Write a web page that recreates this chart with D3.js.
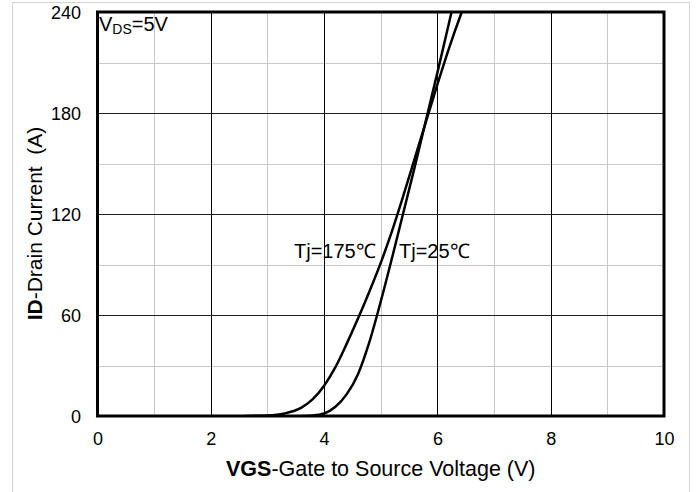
<!DOCTYPE html>
<html><head><meta charset="utf-8">
<script src="https://cdn.jsdelivr.net/npm/d3@7"></script>
<style>
html,body{margin:0;padding:0;background:#fff;}
svg{display:block;font-family:"Liberation Sans",Arial,sans-serif;}
</style></head>
<body><svg id="c" width="696" height="492"></svg>
<script>
// Data
const vgs25  = [3.6, 3.8, 4.0, 4.2, 4.4, 4.6, 4.8, 5.0, 5.2, 5.4, 5.6, 5.8, 6.0, 6.25, 6.32];
const id25   = [0, 0.3, 1.5, 5.5, 13, 25, 44, 68, 94, 121, 148, 176, 204, 240, 250];
const vgs175 = [2.6, 3.0, 3.3, 3.6, 3.8, 4.0, 4.2, 4.4, 4.6, 4.8, 5.0, 5.2, 5.4, 5.6, 5.8, 6.0, 6.2, 6.43, 6.52];
const id175  = [0, 0.3, 1.5, 5, 10, 18, 29, 43, 58, 74, 91, 110, 131, 153, 175, 197, 218, 240, 248];
const xTicks = [0, 2, 4, 6, 8, 10];
const yTicks = [0, 60, 120, 180, 240];
const xMinor = [1, 3, 5, 7, 9];
const yMinor = [30, 90, 150, 210];

const svg = d3.select("#c");
const L = 97.5, R = 664, T = 12, B = 416;
const x = d3.scaleLinear().domain([0, 10]).range([L, R]);
const y = d3.scaleLinear().domain([0, 240]).range([B, T]);
const FONT = "Liberation Sans, Arial, sans-serif";

// outer light border
svg.append("rect").attr("x", 12.5).attr("y", 2.5).attr("width", 677).attr("height", 500)
  .attr("fill", "none").attr("stroke", "#d4d4d4").attr("stroke-width", 1);

// minor grid
const g = svg.append("g");
g.selectAll(".vm").data(xMinor).join("line")
  .attr("x1", d => Math.round(x(d)) + 0.5).attr("x2", d => Math.round(x(d)) + 0.5)
  .attr("y1", T).attr("y2", B).attr("stroke", "#c8c8c8").attr("stroke-width", 1);
g.selectAll(".hm").data(yMinor).join("line")
  .attr("y1", d => Math.round(y(d)) + 0.5).attr("y2", d => Math.round(y(d)) + 0.5)
  .attr("x1", L).attr("x2", R).attr("stroke", "#c8c8c8").attr("stroke-width", 1);
// major grid
g.selectAll(".vM").data(xTicks.slice(1, -1)).join("line")
  .attr("x1", d => Math.round(x(d)) + 0.5).attr("x2", d => Math.round(x(d)) + 0.5)
  .attr("y1", T).attr("y2", B).attr("stroke", "#000").attr("stroke-width", 1);
g.selectAll(".hM").data(yTicks.slice(1, -1)).join("line")
  .attr("y1", d => Math.round(y(d)) + 0.5).attr("y2", d => Math.round(y(d)) + 0.5)
  .attr("x1", L).attr("x2", R).attr("stroke", "#222").attr("stroke-width", 1);

// curves
svg.append("clipPath").attr("id", "clip").append("rect")
  .attr("x", L).attr("y", T).attr("width", R - L).attr("height", B - T);
const line = d3.line().x(d => x(d[0])).y(d => y(d[1])).curve(d3.curveMonotoneX);
const cg = svg.append("g").attr("clip-path", "url(#clip)");
cg.append("path").datum(vgs25.map((v, i) => [v, id25[i]]))
  .attr("d", line).attr("fill", "none").attr("stroke", "#000").attr("stroke-width", 2.5);
cg.append("path").datum(vgs175.map((v, i) => [v, id175[i]]))
  .attr("d", line).attr("fill", "none").attr("stroke", "#000").attr("stroke-width", 2.5);

// frame
svg.append("rect").attr("x", L).attr("y", T).attr("width", R - L).attr("height", B - T)
  .attr("fill", "none").attr("stroke", "#000").attr("stroke-width", 3);

// axes (labels only)
const xAxis = d3.axisBottom(x).tickValues(xTicks).tickSize(0).tickPadding(0).tickFormat(d3.format("d"));
const xa = svg.append("g").attr("transform", `translate(0,${B})`).call(xAxis);
xa.select(".domain").remove();
xa.attr("font-family", FONT);
xa.selectAll("text").attr("dy", null).attr("y", 29).attr("font-size", 18).attr("fill", "#000");

const yAxis = d3.axisLeft(y).tickValues(yTicks).tickSize(0).tickPadding(0).tickFormat(d3.format("d"));
const ya = svg.append("g").attr("transform", `translate(81,0)`).call(yAxis);
ya.select(".domain").remove();
ya.attr("font-family", FONT);
ya.selectAll("text").attr("x", 0).attr("dy", "0.35em").attr("font-size", 18).attr("fill", "#000");

// axis titles
const xt = svg.append("text").attr("x", (L + R) / 2).attr("y", 476).attr("text-anchor", "middle")
  .attr("font-size", 21.5).attr("fill", "#000");
xt.append("tspan").attr("font-weight", "bold").text("VGS");
xt.append("tspan").text("-Gate to Source Voltage (V)");

const yt = svg.append("text").attr("transform", "translate(42,223.5) rotate(-90)")
  .attr("text-anchor", "middle").attr("font-size", 21).attr("fill", "#000");
yt.append("tspan").attr("font-weight", "bold").text("ID");
yt.append("tspan").style("white-space", "pre").text("-Drain Current  (A)");

// annotations
const vd = svg.append("text").attr("x", 99).attr("y", 31).attr("font-size", 20).attr("fill", "#000");
vd.append("tspan").text("V");
vd.append("tspan").attr("font-size", 14).attr("dy", 3).text("DS");
vd.append("tspan").attr("dy", -3).text("=5V");

svg.append("text").attr("x", 294).attr("y", 258).attr("font-size", 20).attr("fill", "#000").text("Tj=175℃");
svg.append("text").attr("x", 399).attr("y", 258).attr("font-size", 20).attr("fill", "#000").text("Tj=25℃");
</script></body></html>
